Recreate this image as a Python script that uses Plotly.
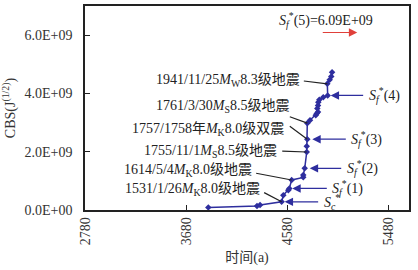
import plotly.graph_objects as go

# ---- data ----
time_a = [3876, 4309, 4336, 4528, 4543, 4587, 4596, 4617, 4720, 4720, 4733,
          4751, 4751, 4756, 4756, 4780, 4831, 4840, 4851, 4845, 4851, 4854,
          4863, 4898, 4937, 4934, 4955, 4969, 4976]
cbs = [0.09e9, 0.14e9, 0.17e9, 0.28e9, 0.51e9, 0.68e9, 0.74e9, 1.03e9, 1.12e9,
       1.20e9, 1.43e9, 1.99e9, 2.19e9, 2.43e9, 2.98e9, 3.08e9, 3.25e9, 3.31e9,
       3.36e9, 3.48e9, 3.59e9, 3.70e9, 3.78e9, 3.87e9, 3.93e9, 4.33e9, 4.47e9,
       4.58e9, 4.73e9]

x_ticks = [2780, 3680, 4580, 5480]
y_ticks = [0, 2e9, 4e9, 6e9]
y_ticklabels = ["0.0E+00", "2.0E+09", "4.0E+09", "6.0E+09"]

# event labels: (point index, text)
quake_idx = [25, 14, 13, 11, 7, 3]
quake_text = [
    "1941/11/25<i>M</i><sub>W</sub>8.3级地震",
    "1761/3/30<i>M</i><sub>S</sub>8.5级地震",
    "1757/1758年<i>M</i><sub>K</sub>8.0级双震",
    "1755/11/1<i>M</i><sub>S</sub>8.5级地震",
    "1614/5/4<i>M</i><sub>K</sub>8.0级地震",
    "1531/1/26<i>M</i><sub>K</sub>8.0级地震",
]
# characteristic values: (point index, label)
sf_idx = [3, 6, 10, 13, 24]
sf_text = [
    "<i>S</i><sub><i>c</i></sub><sup>*</sup>",
    "<i>S</i><sub><i>f</i></sub><sup>*</sup>(1)",
    "<i>S</i><sub><i>f</i></sub><sup>*</sup>(2)",
    "<i>S</i><sub><i>f</i></sub><sup>*</sup>(3)",
    "<i>S</i><sub><i>f</i></sub><sup>*</sup>(4)",
]
sf5_value = 6.09e9
sf5_text = "<i>S</i><sub><i>f</i></sub><sup>*</sup>(5)=6.09E+09"

BLUE = "#2e2e9e"
RED = "#e0403a"
FONT = "Liberation Serif, Noto Sans CJK SC, serif"

fig = go.Figure()
fig.add_trace(go.Scatter(
    x=time_a, y=cbs, mode="lines+markers",
    line=dict(color=BLUE, width=1.5),
    marker=dict(symbol="diamond", size=5, color=BLUE),
    showlegend=False, hoverinfo="skip"))

ann = []
lead = {25: (-25, -3), 14: (-19, -7), 13: (-19, -14), 11: (-26, -1), 7: (-37, -7), 3: (-19, -10)}
text_off = [(-25, 3), (-16, 17), (-21, 10), (-28, 1), (-38, 9), (-20, 12)]
for i, (ax_, ay_) in lead.items():
    ann.append(dict(x=time_a[i], y=cbs[i], xref="x", yref="y", text="",
                    showarrow=True, arrowhead=0, arrowwidth=1.2, arrowcolor="#222",
                    ax=ax_, ay=ay_))
for (i, t), (dx, dy) in zip(zip(quake_idx, quake_text), text_off):
    ann.append(dict(x=time_a[i], y=cbs[i], xref="x", yref="y", text=t,
                    showarrow=False, xanchor="right", yanchor="middle",
                    xshift=dx, yshift=dy,
                    font=dict(family=FONT, size=14, color="#222")))

arrow_len = [38, 39, 38, 40, 37]
standoffs = [3, 3, 5, 5, 3]
for i, t, L, so in zip(sf_idx, sf_text, arrow_len, standoffs):
    ann.append(dict(x=time_a[i], y=cbs[i], xref="x", yref="y", text="",
                    showarrow=True, arrowhead=2, arrowsize=1.4, arrowwidth=1.2,
                    arrowcolor=BLUE, ax=L, ay=0, standoff=so))
    ann.append(dict(x=time_a[i], y=cbs[i], xref="x", yref="y", text=t,
                    showarrow=False, xanchor="left", yanchor="middle",
                    xshift=L + 2, yshift=0,
                    font=dict(family=FONT, size=14, color="#222")))

ann.append(dict(x=5200, y=sf5_value, xref="x", yref="y", text="",
                showarrow=True, arrowhead=2, arrowsize=1.4, arrowwidth=1.2,
                arrowcolor=RED, ax=-36, ay=0))
ann.append(dict(x=4925, y=sf5_value, xref="x", yref="y", text=sf5_text,
                showarrow=False, xanchor="center", yanchor="middle", yshift=13,
                font=dict(family=FONT, size=14, color="#222")))

fig.update_layout(
    width=418, height=270,
    margin=dict(l=85, r=9, t=6, b=60),
    paper_bgcolor="white", plot_bgcolor="white",
    font=dict(family=FONT, size=14, color="#333"),
    annotations=ann,
    xaxis=dict(range=[2780, 5660], tickvals=x_ticks, ticktext=[str(v) for v in x_ticks],
               tickangle=-90, ticks="inside", ticklen=5, tickcolor="#222",
               showline=True, linecolor="#222", linewidth=1.5, mirror=True,
               showgrid=False, zeroline=False, automargin=False,
               title=dict(text="时间(a)", standoff=8, font=dict(size=14, family=FONT))),
    yaxis=dict(range=[0, 7e9], tickvals=y_ticks, ticktext=y_ticklabels,
               ticks="inside", ticklen=5, tickcolor="#222",
               showline=True, linecolor="#222", linewidth=1.5, mirror=True,
               showgrid=False, zeroline=False, ticklabelstandoff=8, automargin=False,
               title=dict(text="CBS(J<sup>(1/2)</sup>)", standoff=6,
                          font=dict(size=14, family=FONT))),
)

fig.write_html("out.html", config={"displayModeBar": False},
               post_script="document.body.style.margin='0';")
